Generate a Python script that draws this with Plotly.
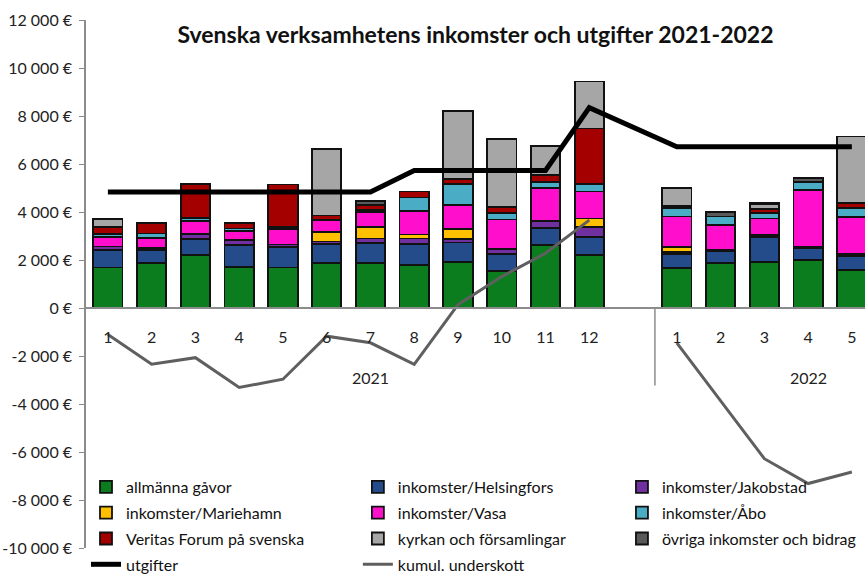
import plotly.graph_objects as go

# ---------------- data ----------------
months_2021 = [1, 2, 3, 4, 5, 6, 7, 8, 9, 10, 11, 12]
months_2022 = [1, 2, 3, 4, 5]
year_labels = ["2021", "2022"]

allmanna_gavor = [1684, 1891, 2208, 1725, 1684, 1863, 1877, 1794, 1932, 1546, 2622, 2208,
                  1656, 1877, 1932, 2001, 1587]
helsingfors = [731, 524, 662, 897, 855, 800, 840, 869, 800, 717, 718, 759,
               593, 497, 1021, 483, 566]
jakobstad = [150, 70, 220, 220, 110, 110, 180, 235, 140, 193, 276, 400,
             70, 60, 80, 60, 110]
mariehamn = [0, 0, 0, 0, 0, 390, 480, 165, 414, 0, 0, 359,
             221, 0, 0, 0, 0]
vasa = [410, 440, 550, 360, 630, 520, 620, 965, 1022, 1229, 1380, 1132,
        1270, 1016, 693, 2369, 1518]
abo = [120, 180, 100, 110, 80, 0, 100, 580, 855, 275, 248, 303,
       359, 359, 221, 331, 387]
veritas = [280, 428, 1420, 220, 1790, 170, 200, 250, 220, 235, 304, 2319,
           80, 0, 193, 0, 193]
kyrkan = [340, 0, 0, 0, 0, 2780, 0, 0, 2815, 2843, 1186, 1959,
          745, 0, 193, 0, 2787]
ovriga = [0, 0, 0, 0, 0, 0, 150, 0, 0, 0, 0, 0,
          0, 200, 55, 166, 0]

utgifter = [4830, 4830, 4830, 4830, 4830, 4830, 4830, 5727, 5727, 5727, 5727, 8349,
            6721, 6721, 6721, 6721, 6721]
kumul_underskott = [-1104, -2346, -2070, -3312, -2967, -1173, -1449, -2346, 140, 1310, 2280, 3660,
                    -1449, -3864, -6279, -7314, -6831]

y_tickvals = [-10000, -8000, -6000, -4000, -2000, 0, 2000, 4000, 6000, 8000, 10000, 12000]
y_ticktext = ["-10 000 €", "-8 000 €", "-6 000 €", "-4 000 €", "-2 000 €", "0 €",
              "2 000 €", "4 000 €", "6 000 €", "8 000 €", "10 000 €", "12 000 €"]

title_text = "Svenska verksamhetens inkomster och utgifter 2021-2022"

# ---------------- positions (one empty slot after 2021) ----------------
n21 = len(months_2021)
x_pos = [i + 1 for i in range(n21)] + [n21 + 2 + i for i in range(len(months_2022))]
month_text = [str(m) for m in months_2021] + [str(m) for m in months_2022]

# line with a gap between the years for the cumulative deficit
x_kumul = x_pos[:n21] + [n21 + 1] + x_pos[n21:]
y_kumul = kumul_underskott[:n21] + [None] + kumul_underskott[n21:]

FONT = "Lato, Open Sans, sans-serif"

series = [
    ("allmänna gåvor", allmanna_gavor, "#0B7D1E", "legend"),
    ("inkomster/Helsingfors", helsingfors, "#244C8A", "legend2"),
    ("inkomster/Jakobstad", jakobstad, "#7030A0", "legend3"),
    ("inkomster/Mariehamn", mariehamn, "#FFC000", "legend"),
    ("inkomster/Vasa", vasa, "#FF0FCB", "legend2"),
    ("inkomster/Åbo", abo, "#4BACC6", "legend3"),
    ("Veritas Forum på svenska", veritas, "#A50000", "legend"),
    ("kyrkan och församlingar", kyrkan, "#A6A6A6", "legend2"),
    ("övriga inkomster och bidrag", ovriga, "#595959", "legend3"),
]

fig = go.Figure()
for i, (name, vals, color, leg) in enumerate(series):
    fig.add_trace(go.Bar(
        x=x_pos, y=vals, name=name, legend=leg, legendgroup="g%d" % i,
        marker=dict(color=color, line=dict(color="#111111", width=1.8)),
    ))

fig.add_trace(go.Scatter(
    x=x_pos, y=utgifter, name="utgifter", mode="lines", legend="legend",
    legendgroup="u1", line=dict(color="#000000", width=5),
))
fig.add_trace(go.Scatter(
    x=x_kumul, y=y_kumul, name="kumul. underskott", mode="lines", legend="legend2",
    legendgroup="u2", connectgaps=False, line=dict(color="#5F5F5F", width=3),
))

y_min, y_max = -10000, 12000
zero_frac = (0 - y_min) / (y_max - y_min)

W, H = 865, 574

legend_common = dict(
    orientation="v", yanchor="top", xanchor="left",
    yref="container", y=1 - 470 / H,
    bgcolor="rgba(0,0,0,0)", font=dict(family=FONT, size=16, color="#111111"),
    tracegroupgap=2, itemclick=False, itemdoubleclick=False,
)

fig.update_layout(
    width=W, height=H,
    margin=dict(l=86, r=0, t=20, b=26, autoexpand=False),
    paper_bgcolor="white", plot_bgcolor="white",
    barmode="stack", bargap=0.33,
    font=dict(family=FONT, size=16, color="#222222"),
    title=dict(text="<b>" + title_text + "</b>", x=0.5, xref="paper",
               y=1 - 35 / H, yref="container", yanchor="middle",
               font=dict(family=FONT, size=23, color="#111111")),
    xaxis=dict(range=[0.5, 18.3], anchor="free", position=zero_frac,
               tickmode="array", tickvals=x_pos, ticktext=month_text,
               showline=True, linecolor="#8C8C8C", linewidth=1.5,
               ticks="", showgrid=False, zeroline=False, automargin=False,
               ticklabelstandoff=15,
               tickfont=dict(family=FONT, size=16, color="#222222")),
    yaxis=dict(range=[y_min, y_max], tickmode="array", tickvals=y_tickvals,
               ticktext=y_ticktext, showline=True, linecolor="#8C8C8C", linewidth=1.5,
               ticks="outside", ticklen=5, tickcolor="#8C8C8C", automargin=False,
               showgrid=False, zeroline=False, ticklabelstandoff=4,
               tickfont=dict(family=FONT, size=16, color="#222222")),
    legend=dict(legend_common, x=0.0),
    legend2=dict(legend_common, x=0.349),
    legend3=dict(legend_common, x=0.688),
    showlegend=True,
)

# year group labels and separator between the years
fig.add_annotation(x=(1 + n21 + 1) / 2, y=-2900, text=year_labels[0], showarrow=False,
                   font=dict(family=FONT, size=16, color="#222222"))
fig.add_annotation(x=(n21 + 2 + n21 + 8) / 2, y=-2900, text=year_labels[1], showarrow=False,
                   font=dict(family=FONT, size=16, color="#222222"))
fig.add_shape(type="line", x0=n21 + 1.5, x1=n21 + 1.5, y0=0, y1=-3230,
              line=dict(color="#8C8C8C", width=1.5), layer="below")

fig.write_html("out.html",
               config={"displayModeBar": False},
               post_script="document.body.style.margin='0';document.body.style.overflow='hidden';")
